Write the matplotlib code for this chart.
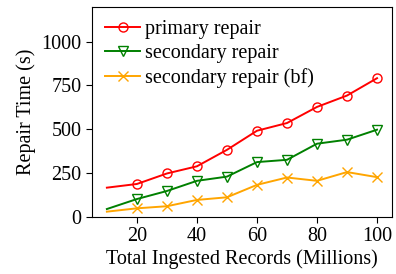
import matplotlib
matplotlib.use("Agg")
import matplotlib.pyplot as plt

plt.rcParams["font.family"] = ["Liberation Serif", "DejaVu Serif"]
plt.rcParams["font.size"] = 14.5

records = [10, 20, 30, 40, 50, 60, 70, 80, 90, 100]
primary = [166, 187, 247, 288, 382, 491, 535, 627, 692, 791]
secondary = [44, 101, 147, 205, 229, 312, 325, 417, 440, 497]
secondary_bf = [29, 48, 60, 96, 111, 182, 224, 205, 255, 226]

fig = plt.figure(figsize=(3.96, 2.74), dpi=100)
ax = fig.add_axes([0.232, 0.209, 0.758, 0.767])

ax.plot(records, primary, color="red", marker="o", mfc="none",
        markevery=slice(1, None), lw=1.4, ms=6.5, label="primary repair")
ax.plot(records, secondary, color="green", marker="v", mfc="none",
        markevery=slice(1, None), lw=1.4, ms=6.5, label="secondary repair")
ax.plot(records, secondary_bf, color="orange", marker="x",
        markevery=slice(1, None), lw=1.4, ms=6.5, label="secondary repair (bf)")

ax.set_xlim(5, 105)
ax.set_ylim(0, 1200)
ax.set_xticks([20, 40, 60, 80, 100])
ax.set_yticks([0, 250, 500, 750, 1000])
ax.tick_params(length=4)
ax.set_xlabel("Total Ingested Records (Millions)", labelpad=2)
ax.set_ylabel("Repair Time (s)", labelpad=4)
ax.legend(loc="upper left", frameon=False, handlelength=1.75,
          handletextpad=0.25, labelspacing=0.25, borderaxespad=0.25)

fig.savefig("out.png", dpi=100)
